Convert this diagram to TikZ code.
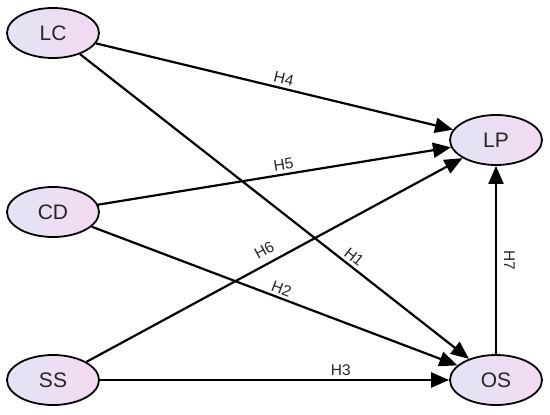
\documentclass[tikz,border=0pt]{standalone}
\usepackage{fontspec}
\setmainfont{Liberation Sans}
\usetikzlibrary{shapes.geometric,arrows.meta}
\tikzset{
  var/.style={ellipse, draw=black, line width=1.8pt, minimum width=92pt, minimum height=50pt,
    left color=ellL, right color=ellR, inner sep=0pt, font=\fontsize{21}{21}\selectfont, text=black!85},
  path/.style={line width=2.2pt, -{Triangle[length=18pt,width=15pt]}},
  hlab/.style={font=\fontsize{15.5}{15.5}\selectfont, text=black!85, inner sep=2pt}
}
\definecolor{ellL}{HTML}{E4E3F5}
\definecolor{ellR}{HTML}{F2DAF2}
\begin{document}
\begin{tikzpicture}[x=1pt,y=-1pt]
\useasboundingbox (0,0) rectangle (550,415);
\node[var] (LC) at (53,33) {LC};
\node[var] (CD) at (53,212) {CD};
\node[var] (SS) at (53,380) {SS};
\node[var] (LP) at (496,140) {LP};
\node[var] (OS) at (496,380) {OS};
\draw[path] (LC) -- node[hlab, sloped, above=1pt, pos=0.52] {H4} (LP);
\draw[path] (CD) -- node[hlab, sloped, above=1pt, pos=0.53] {H5} (LP);
\draw[path] (SS) -- node[hlab, sloped, above=5pt, pos=0.49] {H6} (LP);
\draw[path] (CD) -- node[hlab, sloped, above=1pt, pos=0.51] {H2} (OS);
\draw[path] (LC) -- node[hlab, sloped, above=1pt, pos=0.69] {H1} (OS);
\draw[path] (SS) -- node[hlab, above=1pt, pos=0.69] {H3} (OS);
\draw[path] (OS) -- node[hlab, rotate=-90, anchor=south, inner sep=7pt, pos=0.5] {H7} (LP);
\end{tikzpicture}
\end{document}
